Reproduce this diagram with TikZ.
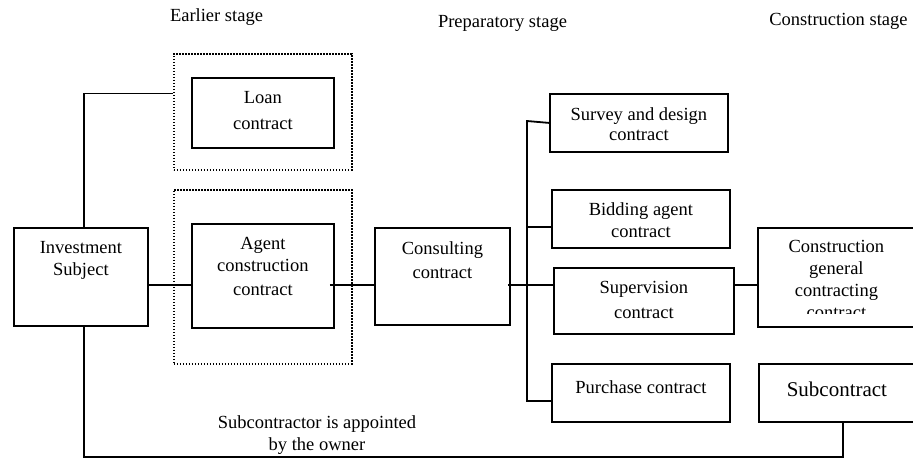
\documentclass[tikz,border=0pt]{standalone}
\usepackage{fontspec}
\setmainfont{Liberation Serif}
\usetikzlibrary{positioning, calc}

\begin{document}
\begin{tikzpicture}[
            x=1pt, y=-1pt,
            font=\fontsize{18.5}{22}\selectfont,
            box/.style={draw, line width=1.8pt, inner sep=0pt, anchor=north west},
            group/.style={draw, line width=1.6pt, dash pattern=on 1.4pt off 1.6pt,
                          inner sep=0pt, anchor=north west},
            txt/.style={align=center, inner sep=0pt, anchor=north},
            link/.style={line width=1.8pt}
            ]
        \clip (0,0) rectangle (913,459);

        \path coordinate (main) at (0,285)
              coordinate (bustop) at (527,121)
              coordinate (busbot) at (527,401)
              coordinate (own) at (843,457);

        % stages
        \node[txt] (early) at (216.5,8.5) {Earlier stage};
        \node[txt] (prep) at (502.5,15.5) {Preparatory stage};
        \node[txt] (constr) at (838.5,13.5) {Construction stage};

        \node[group, minimum width=178, minimum height=116] (dot1) at (173,53) {};
        \node[group, minimum width=178, minimum height=174] (dot2) at (173,189) {};

        \node[box, minimum width=134, minimum height=98] (inv) at (13,227) {};
        \node[box, minimum width=142, minimum height=70] (loan) at (191,77) {};
        \node[box, minimum width=142, minimum height=104] (agent) at (191,223) {};
        \node[box, minimum width=135, minimum height=97] (consult) at (374,227) {};
        \node[box, minimum width=178, minimum height=58] (survey) at (549,93) {};
        \node[box, minimum width=178, minimum height=58] (bid) at (551,189) {};
        \node[box, minimum width=180, minimum height=66] (sup) at (553,267) {};
        \node[box, minimum width=178, minimum height=58] (purch) at (551,363) {};
        \node[box, minimum width=157, minimum height=99] (cgc) at (757,227) {};
        \node[box, minimum width=156, minimum height=58] (subc) at (758,363) {};

        \node[txt, below=14.5pt of inv.north] (invt) {Investment\\Subject};
        \node[txt, below=14.5pt of loan.north] (loant) {Loan\\[4pt]contract};
        \node[txt, below=14.5pt of agent.north] (agentt) {Agent\\construction\\[2pt]contract};
        \node[txt, below=14.5pt of consult.north] (consultt) {Consulting\\[2pt]contract};
        \node[txt, below=14.5pt of survey.north] (surveyt) {Survey and design\\[-2.5pt]contract};
        \node[txt, below=13.5pt of bid.north] (bidt) {Bidding agent\\contract};
        \node[txt, below=14.5pt of sup.north] (supt) {Supervision\\[3pt]contract};
        \node[txt, below=17.5pt of purch.north] (purcht) {Purchase contract};
        \node[txt, below=18.5pt of subc.north, font=\fontsize{21}{25}\selectfont] (subct) {Subcontract};
        \begin{scope}
            \clip (757,227) rectangle (914,313);
            \node[txt, below=13.5pt of cgc.north] (cgct) {Construction\\general\\contracting\\contract};
        \end{scope}

        \node[txt] (ownt) at (317,415) {Subcontractor is appointed\\by the owner};

        \draw[link] ($(inv.north)+(3,0)$) |- ($(dot1.north west)!0.345!(dot1.south west)$);
        \draw[link] (inv.east |- main) -- (agent.west |- main);
        \draw[link] ($(agent.east |- main)+(-5,0)$) -- (consult.west |- main);
        \draw[link] ($(consult.east |- main)+(-3,0)$) -- (sup.west |- main);
        \draw[link] (survey.west) -- (bustop) -- (busbot) -- (purch.west |- busbot);
        \draw[link] (bustop |- consult.north) -- (bid.west |- consult.north);
        \draw[link] (sup.east |- main) -- (cgc.west |- main);
        \draw[link] ($(inv.south)+(3,0)$) |- (own) -- (own |- subc.south);
    \end{tikzpicture}
\end{document}
